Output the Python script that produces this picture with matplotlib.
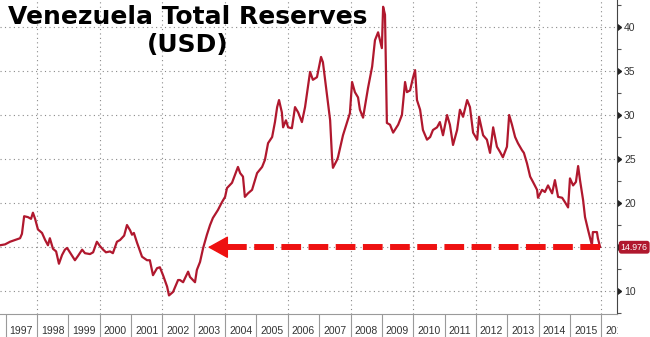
import matplotlib.pyplot as plt
from matplotlib.ticker import MultipleLocator, FixedLocator, NullFormatter, FuncFormatter
from matplotlib.transforms import Bbox, TransformedBbox

# Venezuela total reserves, USD bn (decimal years)
years = [1996.82, 1996.98, 1997.14, 1997.30, 1997.46, 1997.52, 1997.59, 1997.71, 1997.81, 1997.87,
         1997.94, 1998.03, 1998.16, 1998.26, 1998.35, 1998.41, 1998.51, 1998.61, 1998.70, 1998.80,
         1998.89, 1998.96, 1999.05, 1999.21, 1999.31, 1999.44, 1999.53, 1999.69, 1999.79, 1999.91,
         2000.01, 2000.11, 2000.20, 2000.33, 2000.42, 2000.55, 2000.65, 2000.78, 2000.87, 2000.97,
         2001.03, 2001.09, 2001.19, 2001.35, 2001.51, 2001.60, 2001.70, 2001.83, 2001.92, 2002.02,
         2002.15, 2002.21, 2002.34, 2002.50, 2002.56, 2002.66, 2002.82, 2002.88, 2003.04, 2003.10,
         2003.20, 2003.30, 2003.42, 2003.52, 2003.61, 2003.77, 2003.90, 2004.00, 2004.06, 2004.22,
         2004.41, 2004.48, 2004.57, 2004.63, 2004.73, 2004.86, 2005.02, 2005.18, 2005.27, 2005.37,
         2005.50, 2005.59, 2005.66, 2005.72, 2005.81, 2005.85, 2005.94, 2006.01, 2006.13, 2006.23,
         2006.33, 2006.45, 2006.55, 2006.71, 2006.80, 2006.93, 2007.06, 2007.12, 2007.22, 2007.35,
         2007.41, 2007.44, 2007.57, 2007.60, 2007.76, 2007.98, 2008.05, 2008.14, 2008.24, 2008.30,
         2008.40, 2008.56, 2008.69, 2008.78, 2008.88, 2009.00, 2009.04, 2009.10, 2009.16, 2009.26,
         2009.36, 2009.52, 2009.64, 2009.74, 2009.80, 2009.90, 2009.99, 2010.06, 2010.12, 2010.22,
         2010.31, 2010.44, 2010.54, 2010.63, 2010.76, 2010.85, 2010.95, 2011.08, 2011.17, 2011.27,
         2011.40, 2011.49, 2011.59, 2011.72, 2011.81, 2011.91, 2012.04, 2012.10, 2012.23, 2012.35,
         2012.45, 2012.55, 2012.67, 2012.77, 2012.86, 2012.99, 2013.06, 2013.15, 2013.25, 2013.34,
         2013.47, 2013.53, 2013.63, 2013.73, 2013.82, 2013.95, 2013.98, 2014.11, 2014.20, 2014.30,
         2014.43, 2014.52, 2014.62, 2014.75, 2014.84, 2014.94, 2015.00, 2015.10, 2015.19, 2015.26,
         2015.32, 2015.42, 2015.48, 2015.58, 2015.70, 2015.73, 2015.86, 2015.89, 2015.96]
reserves = [15.2, 15.3, 15.6, 15.8, 16.0, 16.5, 18.5, 18.4, 18.2, 18.9,
            18.2, 17.0, 16.6, 15.8, 15.2, 16.0, 14.8, 14.5, 13.1, 14.1,
            14.7, 14.9, 14.4, 13.5, 14.0, 14.7, 14.3, 14.2, 14.4, 15.6,
            15.1, 14.7, 14.4, 14.5, 14.3, 15.6, 15.8, 16.3, 17.5, 16.9,
            16.4, 16.6, 15.5, 13.9, 13.5, 13.5, 11.8, 12.6, 12.7, 11.8,
            10.5, 9.5, 9.9, 11.25, 11.25, 11.0, 12.2, 11.6, 11.0, 12.4,
            13.3, 14.9, 16.4, 17.5, 18.3, 19.2, 20.1, 20.7, 21.7, 22.3,
            24.1, 23.4, 23.0, 20.7, 21.1, 21.5, 23.4, 24.1, 24.9, 26.8,
            27.5, 29.2, 30.9, 31.7, 30.3, 28.6, 29.4, 28.6, 28.5, 30.9,
            30.3, 29.2, 30.9, 34.9, 34.0, 34.3, 36.6, 36.0, 33.1, 29.4,
            25.2, 24.0, 24.9, 25.2, 27.7, 30.2, 33.75, 32.6, 32.0, 30.6,
            29.7, 33.1, 35.5, 38.5, 39.4, 37.6, 42.3, 41.4, 29.1, 28.9,
            28.0, 28.9, 30.0, 33.75, 32.6, 32.8, 34.2, 35.1, 31.7, 30.6,
            28.3, 27.2, 27.5, 28.3, 28.6, 29.2, 27.7, 30.0, 28.9, 26.6,
            28.3, 30.6, 29.8, 31.7, 30.9, 28.0, 27.2, 29.8, 27.7, 27.2,
            25.7, 28.6, 26.4, 25.8, 25.2, 26.4, 30.0, 28.9, 27.5, 26.8,
            26.0, 25.7, 24.5, 23.0, 22.4, 21.5, 20.6, 21.5, 21.25, 22.0,
            21.1, 22.6, 20.7, 20.6, 20.1, 19.5, 22.8, 22.0, 22.4, 24.2,
            22.6, 20.3, 18.4, 16.9, 15.2, 16.7, 16.7, 16.0, 15.0]

year_labels = list(range(1997, 2017))
y_ticks = list(range(10, 41, 5))
last_value = 14.976
arrow_start = 2015.96   # right end of dashed arrow
arrow_tip = 2003.45     # where the arrow points to

LINE_RED = '#b0182e'
ARROW_RED = '#ee1111'
TICK_FONT = 'Liberation Sans'

fig = plt.figure(figsize=(6.5, 3.37), dpi=100)
ax = fig.add_axes([0, 23 / 337, 617 / 650, 314 / 337])

ax.plot(years, reserves, color=LINE_RED, lw=1.6, zorder=3)

ax.set_xlim(1996.82, 2016.5)
ax.set_ylim(7.39, 43.07)

# dotted grid
for v in y_ticks:
    ax.axhline(v, color='#8a8a8a', lw=0.8, ls=(0, (1, 3)), zorder=1)
for yr in year_labels[1::2]:
    ax.axvline(yr, color='#8a8a8a', lw=0.8, ls=(0, (1, 3)), zorder=1)

# right axis with small arrow ticks; the 15 label sits under the last-value tag
ax.set_yticks(y_ticks)
ax.yaxis.set_major_formatter(FuncFormatter(lambda v, p: '' if v == 15 else f'{v:.0f}'))
ax.yaxis.set_minor_locator(MultipleLocator(2.5))
ax.yaxis.tick_right()
ax.tick_params(axis='y', which='major', direction='out', length=4, width=1,
               color='#222222', labelsize=7.5, labelcolor='#333333', pad=1)
ax.tick_params(axis='y', which='minor', direction='out', length=3, width=0.8, color='#555555')
for t in ax.yaxis.get_major_ticks():
    t.tick2line.set_marker(9)   # caret right, base on the spine
    t.tick2line.set_markersize(4)
    t.tick2line.set_markerfacecolor('#222222')
    t.label2.set_family(TICK_FONT)

# bottom axis: separators at year boundaries, labels centered in each year
ax.xaxis.set_major_locator(FixedLocator(year_labels))
ax.xaxis.set_major_formatter(NullFormatter())
ax.tick_params(axis='x', which='major', direction='out', length=17, width=0.8, color='#9a9a9a')
clip = TransformedBbox(Bbox([[0, 0], [618 / 650, 1]]), fig.transFigure)
for y in year_labels:
    t = ax.text(y + 0.5, -0.054, str(y), transform=ax.get_xaxis_transform(), ha='center',
                va='center', fontsize=7.5, color='#333333', family=TICK_FONT)
    t.set_clip_box(clip)
    t.set_clip_on(True)

for s in ['left', 'top']:
    ax.spines[s].set_visible(False)
ax.spines['right'].set_color('#444444')
ax.spines['bottom'].set_color('#9a9a9a')

# dashed arrow pointing back to the 2003 level
ax.plot([arrow_start, arrow_tip + 0.6], [last_value, last_value], color=ARROW_RED, lw=4.3,
        dashes=(3.3, 1.25), solid_capstyle='butt', zorder=4)
ax.annotate('', xy=(arrow_tip, last_value), xytext=(arrow_tip + 0.65, last_value),
            arrowprops=dict(arrowstyle='-|>,head_length=0.65,head_width=0.36',
                            mutation_scale=20, color=ARROW_RED, lw=1, shrinkA=0, shrinkB=0),
            zorder=4)

# last value tag
ax.text(1.006, last_value, f'{last_value:.3f}', transform=ax.get_yaxis_transform(),
        ha='left', va='center', fontsize=6.3, color='white', family=TICK_FONT,
        bbox=dict(boxstyle='round,pad=0.22,rounding_size=0.3', fc=LINE_RED, ec='none'))

fig.text(188 / 650, 1 - 5 / 337, 'Venezuela Total Reserves\n(USD)', ha='center', va='top',
         fontsize=18, fontweight='bold', color='black', linespacing=1.2)

fig.savefig('out.png', dpi=100)
